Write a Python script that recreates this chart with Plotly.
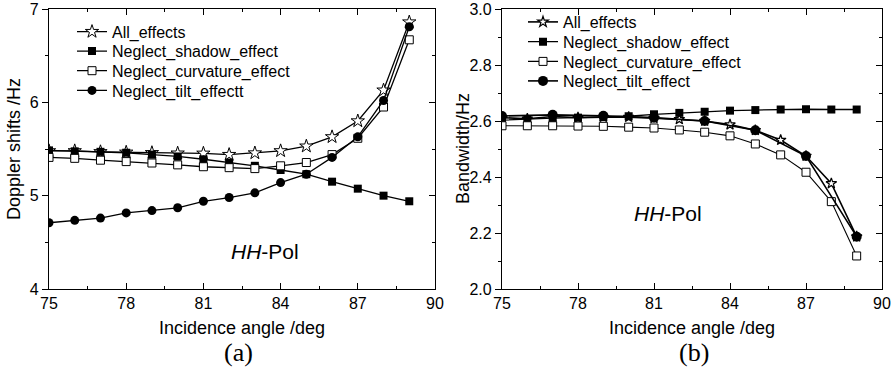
import plotly.graph_objects as go

# ---------------- data ----------------
angles = [75, 76, 77, 78, 79, 80, 81, 82, 83, 84, 85, 86, 87, 88, 89]
odd_angles = [75, 77, 79, 81, 83, 85, 87, 89]

dop_all = [5.48, 5.48, 5.47, 5.465, 5.46, 5.455, 5.454, 5.44, 5.457, 5.48, 5.53, 5.63, 5.80, 6.13, 6.86]
dop_shadow = [5.485, 5.475, 5.47, 5.46, 5.44, 5.42, 5.39, 5.355, 5.32, 5.275, 5.23, 5.15, 5.075, 5.0, 4.94]
dop_curv = [5.41, 5.40, 5.38, 5.365, 5.35, 5.33, 5.31, 5.30, 5.29, 5.32, 5.355, 5.44, 5.615, 5.95, 6.67]
dop_tilt = [4.71, 4.736, 4.76, 4.815, 4.84, 4.87, 4.94, 4.98, 5.03, 5.14, 5.23, 5.41, 5.63, 6.02, 6.81]

bw_all = [2.612, 2.608, 2.616, 2.612, 2.614, 2.614, 2.610, 2.606, 2.600, 2.587, 2.567, 2.532, 2.475, 2.377, 2.187]
bw_shadow = [2.603, 2.607, 2.610, 2.612, 2.614, 2.617, 2.624, 2.629, 2.633, 2.637, 2.639, 2.641, 2.642, 2.641, 2.641]
bw_curv = [2.583, 2.583, 2.583, 2.582, 2.581, 2.578, 2.575, 2.568, 2.560, 2.547, 2.518, 2.479, 2.417, 2.312, 2.118]
bw_tilt = [2.618, 2.622, 2.619, 2.612, 2.600, 2.567, 2.475, 2.187]

names_a = ["All_effects", "Neglect_shadow_effect", "Neglect_curvature_effect", "Neglect_tilt_effectt"]
names_b = ["All_effects", "Neglect_shadow_effect", "Neglect_curvature_effect", "Neglect_tilt_effect"]

x_ticks = [75, 78, 81, 84, 87, 90]
ya_ticks = [4, 5, 6, 7]
yb_ticks = [2.0, 2.2, 2.4, 2.6, 2.8, 3.0]
yb_ticklabels = ["2.0", "2.2", "2.4", "2.6", "2.8", "3.0"]

# ---------------- styles / geometry ----------------
FONT = "Liberation Sans, Arial, sans-serif"
SERIF = "Liberation Serif, Times New Roman, serif"
BLK = "black"
W = 894
H = 371


def px(x):
    return x / W


def py(y):
    return 1 - y / H


styles_a = [
    dict(symbol="star", size=10, color="white", line=dict(color=BLK, width=1)),
    dict(symbol="square", size=8, color=BLK, line=dict(color=BLK, width=0)),
    dict(symbol="square", size=8, color="white", line=dict(color=BLK, width=1)),
    dict(symbol="circle", size=9, color=BLK, line=dict(color=BLK, width=0)),
]
styles_b = [
    dict(symbol="star", size=8, color="white", line=dict(color=BLK, width=1.2)),
    dict(symbol="square", size=8, color=BLK, line=dict(color=BLK, width=0)),
    dict(symbol="square", size=8, color="white", line=dict(color=BLK, width=1)),
    dict(symbol="circle", size=10, color=BLK, line=dict(color=BLK, width=0)),
]

# legend row centres (px from top); legends anchored by their top edge
rows_a = [31.7, 51.2, 70.8, 90.5]
rows_b = [22.0, 41.8, 61.5, 81.0]
ROW_OFF = 17.0
leg_x_a = 72
leg_x_b = 523

fig = go.Figure()

series_a = [(angles, dop_all), (angles, dop_shadow), (angles, dop_curv), (angles, dop_tilt)]
legend_layout = {}
for i, ((xs, ys), nm, st) in enumerate(zip(series_a, names_a, styles_a)):
    lname = "legend" if i == 0 else "legend%d" % (i + 1)
    fig.add_trace(go.Scatter(x=xs, y=ys, name=nm, mode="lines+markers",
                             line=dict(color=BLK, width=1.3), marker=st,
                             xaxis="x", yaxis="y", legend=lname))
    legend_layout[lname] = dict(x=px(leg_x_a), y=py(rows_a[i] - ROW_OFF), xanchor="left", yanchor="top",
                                bgcolor="rgba(0,0,0,0)", borderwidth=0,
                                font=dict(family=FONT, size=16, color=BLK), itemwidth=30)

series_b = [(angles, bw_all), (angles, bw_shadow), (angles, bw_curv), (odd_angles, bw_tilt)]
widths_b = [1.6, 1.3, 1.1, 1.6]
for i, ((xs, ys), nm, st, w) in enumerate(zip(series_b, names_b, styles_b, widths_b)):
    lname = "legend%d" % (i + 5)
    fig.add_trace(go.Scatter(x=xs, y=ys, name=nm, mode="lines+markers",
                             line=dict(color=BLK, width=w), marker=st,
                             xaxis="x2", yaxis="y2", legend=lname))
    legend_layout[lname] = dict(x=px(leg_x_b), y=py(rows_b[i] - ROW_OFF), xanchor="left", yanchor="top",
                                bgcolor="rgba(0,0,0,0)", borderwidth=0,
                                font=dict(family=FONT, size=16, color=BLK), itemwidth=30)

# helper empty traces to register right-side tick axes
fig.add_trace(go.Scatter(x=[], y=[], xaxis="x", yaxis="y3", showlegend=False))
fig.add_trace(go.Scatter(x=[], y=[], xaxis="x2", yaxis="y4", showlegend=False))

ydom = [py(289), py(9)]
xdom_a = [px(49), px(435)]
xdom_b = [px(502), px(882)]

tickfont = dict(family=FONT, size=16, color=BLK)


def xaxis_cfg(dom, anchor):
    return dict(domain=dom, anchor=anchor, range=[75, 90], tickvals=x_ticks,
                ticks="inside", ticklen=6, tickwidth=1, tickcolor=BLK,
                showline=True, linecolor=BLK, linewidth=1.2, mirror="ticks",
                showgrid=False, zeroline=False, tickfont=tickfont,
                ticklabeloverflow="allow",
                minor=dict(tickvals=[76.5, 79.5, 82.5, 85.5, 88.5], ticks="inside",
                           ticklen=3, tickcolor=BLK, showgrid=False))


fig.update_layout(
    width=W, height=H,
    margin=dict(l=0, r=0, t=0, b=0, autoexpand=False),
    paper_bgcolor="white", plot_bgcolor="white",
    font=dict(family=FONT, color=BLK),
    showlegend=True,
    xaxis=xaxis_cfg(xdom_a, "y"),
    xaxis2=xaxis_cfg(xdom_b, "y2"),
    yaxis=dict(domain=ydom, anchor="x", range=[4, 7], tickvals=ya_ticks,
               ticks="outside", ticklen=6, tickcolor=BLK, showline=True,
               linecolor=BLK, linewidth=1.2, mirror=True, showgrid=False,
               zeroline=False, tickfont=tickfont, ticklabeloverflow="allow",
               minor=dict(tickvals=[4.5, 5.5, 6.5], ticks="outside", ticklen=3,
                          tickcolor=BLK, showgrid=False)),
    yaxis2=dict(domain=ydom, anchor="x2", range=[2.0, 3.0], tickvals=yb_ticks,
                ticktext=yb_ticklabels,
                ticks="outside", ticklen=6, tickcolor=BLK, showline=True,
                linecolor=BLK, linewidth=1.2, mirror=True, showgrid=False,
                zeroline=False, tickfont=tickfont, ticklabeloverflow="allow",
                minor=dict(tickvals=[2.1, 2.3, 2.5, 2.7, 2.9], ticks="outside", ticklen=3,
                           tickcolor=BLK, showgrid=False)),
    yaxis3=dict(overlaying="y", side="right", anchor="x", range=[4, 7], tickvals=ya_ticks,
                ticks="inside", ticklen=6, tickcolor=BLK, showticklabels=False,
                showline=False, showgrid=False, zeroline=False,
                minor=dict(tickvals=[4.5, 5.5, 6.5], ticks="inside", ticklen=3,
                           tickcolor=BLK, showgrid=False)),
    yaxis4=dict(overlaying="y2", side="right", anchor="x2", range=[2.0, 3.0], tickvals=yb_ticks,
                ticks="inside", ticklen=6, tickcolor=BLK, showticklabels=False,
                showline=False, showgrid=False, zeroline=False,
                minor=dict(tickvals=[2.1, 2.3, 2.5, 2.7, 2.9], ticks="inside", ticklen=3,
                           tickcolor=BLK, showgrid=False)),
    **legend_layout,
)

TITLE_SIZE = 18
ann = []
for cx in [(49 + 435) / 2, (502 + 882) / 2]:
    ann.append(dict(text="Incidence angle /deg", x=px(cx), y=py(328),
                    xref="paper", yref="paper", showarrow=False,
                    font=dict(family=FONT, size=TITLE_SIZE, color=BLK),
                    xanchor="center", yanchor="middle"))
ann.append(dict(text="(a)", x=px(238), y=py(352), xref="paper", yref="paper",
                showarrow=False, font=dict(family=SERIF, size=26, color=BLK),
                xanchor="center", yanchor="middle"))
ann.append(dict(text="(b)", x=px(694), y=py(352), xref="paper", yref="paper",
                showarrow=False, font=dict(family=SERIF, size=26, color=BLK),
                xanchor="center", yanchor="middle"))
ann.append(dict(text="Doppler shifts /Hz", x=px(14), y=py(149), xref="paper", yref="paper",
                showarrow=False, textangle=-90, font=dict(family=FONT, size=TITLE_SIZE, color=BLK),
                xanchor="center", yanchor="middle"))
ann.append(dict(text="Bandwidth/Hz", x=px(463), y=py(149), xref="paper", yref="paper",
                showarrow=False, textangle=-90, font=dict(family=FONT, size=TITLE_SIZE, color=BLK),
                xanchor="center", yanchor="middle"))
ann.append(dict(text="<i>HH</i>-Pol", x=px(265), y=py(252), xref="paper", yref="paper",
                showarrow=False, font=dict(family=FONT, size=21, color=BLK),
                xanchor="center", yanchor="middle"))
ann.append(dict(text="<i>HH</i>-Pol", x=px(668), y=py(213), xref="paper", yref="paper",
                showarrow=False, font=dict(family=FONT, size=21, color=BLK),
                xanchor="center", yanchor="middle"))
fig.update_layout(annotations=ann)

# remove the default page margin so the figure fills the 894x371 window exactly
fig.write_html("out.html", config={"displayModeBar": False},
               post_script="document.body.style.margin='0px';")
